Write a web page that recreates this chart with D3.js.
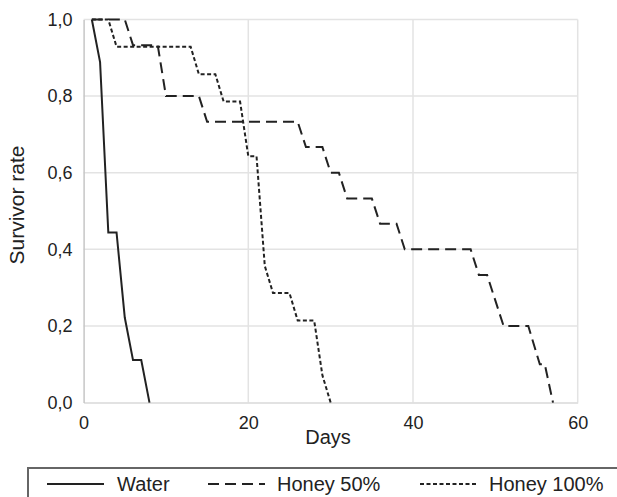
<!DOCTYPE html>
<html><head><meta charset="utf-8">
<script src="https://cdn.jsdelivr.net/npm/d3@7"></script>
<style>body{margin:0;background:#fff}svg{display:block;font-family:"Liberation Sans",Arial,sans-serif}</style>
</head><body>
<svg id="c" width="617" height="497"></svg>
<script>
const waterDays = [1, 2, 3, 4, 5, 6, 7, 8];
const waterRate = [1, 0.889, 0.444, 0.444, 0.222, 0.111, 0.111, 0];
const honey50Days = [1, 5, 6, 9, 10, 14, 15, 26, 27, 29, 30, 31, 32, 35, 36, 38, 39, 47, 48, 49, 51, 54, 55.4, 56, 57];
const honey50Rate = [1, 1, 0.933, 0.933, 0.8, 0.8, 0.733, 0.733, 0.667, 0.667, 0.6, 0.6, 0.533, 0.533, 0.467, 0.467, 0.4, 0.4, 0.333, 0.333, 0.2, 0.2, 0.1, 0.1, 0];
const honey100Days = [1, 3, 4, 13, 14, 16, 17, 19, 20, 21, 22, 23, 25, 26, 28, 29, 30];
const honey100Rate = [1, 1, 0.929, 0.929, 0.857, 0.857, 0.786, 0.786, 0.643, 0.643, 0.357, 0.286, 0.286, 0.214, 0.214, 0.071, 0];
const xTicks = [0, 20, 40, 60];
const yTicks = [0, 0.2, 0.4, 0.6, 0.8, 1.0];
const seriesNames = ["Water", "Honey 50%", "Honey 100%"];

const series = [
  {name: seriesNames[0], days: waterDays, rate: waterRate, dash: null},
  {name: seriesNames[1], days: honey50Days, rate: honey50Rate, dash: "11,6"},
  {name: seriesNames[2], days: honey100Days, rate: honey100Rate, dash: "4,2.5"}
];

const svg = d3.select("#c");
const x = d3.scaleLinear().domain([0, 60]).range([83.6, 577.7]);
const y = d3.scaleLinear().domain([0, 1]).range([402.6, 19.5]);

// gridlines
svg.append("g").selectAll("line.h").data(yTicks.filter(d => d > 0)).join("line")
  .attr("x1", x(0)).attr("x2", x(60)).attr("y1", d => y(d)).attr("y2", d => y(d))
  .attr("stroke", "#e3e3e3").attr("stroke-width", 1.5);
svg.append("g").selectAll("line.v").data(xTicks.filter(d => d > 0)).join("line")
  .attr("x1", d => x(d)).attr("x2", d => x(d)).attr("y1", y(0)).attr("y2", y(1))
  .attr("stroke", "#e3e3e3").attr("stroke-width", 1.5);

// axes
const xAxis = svg.append("g").attr("transform", `translate(0,${y(0)})`)
  .call(d3.axisBottom(x).tickValues(xTicks).tickSize(0).tickPadding(14).tickFormat(d3.format("d")));
xAxis.select(".domain").attr("stroke", "#d9d9d9").attr("stroke-width", 1.5);
const yAxis = svg.append("g").attr("transform", `translate(${x(0)},0)`)
  .call(d3.axisLeft(y).tickValues(yTicks).tickSize(0).tickPadding(11).tickFormat(d => d3.format(".1f")(d).replace(".", ",")));
yAxis.select(".domain").attr("stroke", "#c6c6c6").attr("stroke-width", 1.5);
svg.selectAll(".tick text").attr("font-size", 18).attr("fill", "#222").attr("font-family", "Liberation Sans, Arial, sans-serif");

svg.append("text").attr("x", 328).attr("y", 444).attr("text-anchor", "middle")
  .attr("font-size", 20).attr("fill", "#222").text("Days");
svg.append("text").attr("transform", "translate(24,205) rotate(-90)").attr("text-anchor", "middle")
  .attr("font-size", 21).attr("fill", "#222").text("Survivor rate");

// lines
const line = d3.line().x(d => x(d[0])).y(d => y(d[1]));
svg.append("g").selectAll("path").data(series).join("path")
  .attr("d", s => line(s.days.map((d, i) => [d, s.rate[i]])))
  .attr("fill", "none").attr("stroke", "#222").attr("stroke-width", 2)
  .attr("stroke-dasharray", s => s.dash);

// legend
svg.append("rect").attr("x", 28).attr("y", 468).attr("width", 640).attr("height", 60)
  .attr("fill", "none").attr("stroke", "#666").attr("stroke-width", 2);
const legX = [47, 208, 420];
const legTX = [117, 277, 489];
const lg = svg.append("g").selectAll("g").data(series).join("g");
lg.append("line").attr("x1", (d, i) => legX[i]).attr("x2", (d, i) => legX[i] + 57)
  .attr("y1", 484).attr("y2", 484).attr("stroke", "#222").attr("stroke-width", 2)
  .attr("stroke-dasharray", d => d.dash);
lg.append("text").attr("x", (d, i) => legTX[i]).attr("y", 491).attr("font-size", 20)
  .attr("fill", "#222").text(d => d.name);
</script>
</body></html>
